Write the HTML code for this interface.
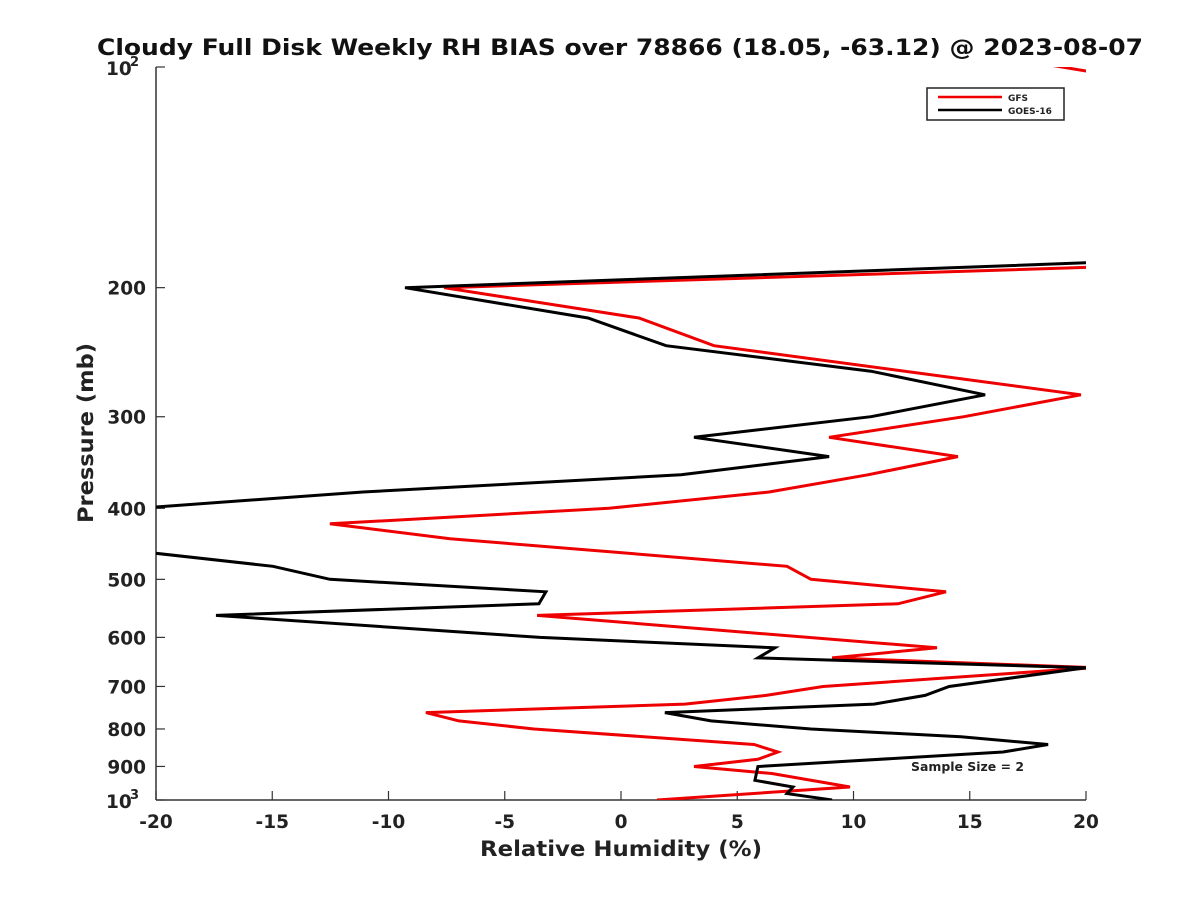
<!DOCTYPE html>
<html><head><meta charset="utf-8"><style>
body{margin:0;background:#fff;}
svg{display:block;font-family:"DejaVu Sans","Liberation Sans",sans-serif;}
</style></head><body>
<svg id="chart" width="1200" height="900" viewBox="0 0 1200 900">
<defs><clipPath id="plotclip"><rect x="156" y="67" width="930" height="733"/></clipPath></defs>
<text x="97" y="55" font-size="22.5" font-weight="bold" fill="#111" textLength="1046" lengthAdjust="spacingAndGlyphs">Cloudy Full Disk Weekly RH BIAS over 78866 (18.05, -63.12) @ 2023-08-07</text>
<g id="axes"></g>
<g id="series" clip-path="url(#plotclip)"></g>
<text x="480" y="856" font-size="21" font-weight="bold" fill="#222" textLength="282" lengthAdjust="spacingAndGlyphs">Relative Humidity (%)</text>
<text transform="translate(93,523) rotate(-90)" font-size="21" font-weight="bold" fill="#222" textLength="180" lengthAdjust="spacingAndGlyphs">Pressure (mb)</text>
<g>
<rect x="927" y="88" width="137" height="32" fill="#fff" stroke="#222" stroke-width="1.5"/>
<line x1="938" y1="97" x2="1002" y2="97" stroke="#e00" stroke-width="2.5"/>
<text x="1008" y="101" font-size="9" font-weight="bold" fill="#222">GFS</text>
<line x1="938" y1="110" x2="1002" y2="110" stroke="#000" stroke-width="2.5"/>
<text x="1008" y="114" font-size="9" font-weight="bold" fill="#222">GOES-16</text>
</g>
<text x="911" y="771" font-size="12" font-weight="bold" fill="#222" textLength="113" lengthAdjust="spacingAndGlyphs">Sample Size = 2</text>
</svg>
<script>
const xTicks=[-20,-15,-10,-5,0,5,10,15,20];
const yTicks=[200,300,400,500,600,700,800,900];
const gfsPressure=[95,105,187,200,220,240,280,300,320,340,360,380,400,420,440,480,500,520,540,560,620,640,660,700,720,740,760,780,800,840,860,880,900,920,960,1000];
const gfsValues=[14.75,22.97,21.5,-7.61,0.77,4.0,19.78,14.75,8.95,14.49,10.62,6.37,-0.52,-12.52,-7.35,7.14,8.17,13.98,11.91,-3.61,13.59,9.08,20.3,8.69,6.24,2.75,-8.39,-6.97,-3.74,5.72,6.75,5.89,3.14,6.49,9.85,1.55];
const goesPressure=[184,200,220,240,260,280,300,320,340,360,380,400,430,460,480,500,520,540,560,600,620,640,660,700,720,740,760,780,800,820,840,860,900,940,960,980,1000];
const goesValues=[22,-9.29,-1.42,1.94,10.75,15.66,10.75,3.14,8.95,2.58,-11.1,-20.8,-30,-20.2,-14.97,-12.52,-3.23,-3.53,-17.42,-3.48,6.62,5.89,20.0,14.11,13.08,10.88,1.89,3.87,8.17,14.62,18.37,16.43,5.89,5.76,7.4,7.14,9.08];
const X0=156,X1=1086,Y0=67,Y1=800;
function xs(v){return X0+(v+20)/40*(X1-X0);}
function ys(p){return Y0+(Math.log10(p)-2)*(Y1-Y0);}
const NS='http://www.w3.org/2000/svg';
const axes=document.getElementById('axes'),ser=document.getElementById('series');
function mk(t,a,par){const e=document.createElementNS(NS,t);for(const k in a)e.setAttribute(k,a[k]);par.appendChild(e);return e;}
const la=mk('line',{x1:X0,y1:Y0,x2:X0,y2:Y1,stroke:'#333','stroke-width':1.5},axes);


const lb=mk('line',{x1:X0,y1:Y1,x2:X1,y2:Y1,stroke:'#333','stroke-width':1.5},axes);


xTicks.forEach(v=>{const x=xs(v);
 mk('line',{x1:x,y1:Y1,x2:x,y2:Y1-9,stroke:'#333','stroke-width':1.2},axes);
 const t=mk('text',{x:x,y:828,'text-anchor':'middle','font-size':18.5,'font-weight':'bold',fill:'#222'},axes);
 t.textContent=String(v);
 
 
});
yTicks.forEach(p=>{const y=ys(p);
 mk('line',{x1:X0,y1:y,x2:X0+9,y2:y,stroke:'#333','stroke-width':1.2},axes);
 const t=mk('text',{x:146,y:y+7,'text-anchor':'end','font-size':18.5,'font-weight':'bold',fill:'#222'},axes);
 t.textContent=String(p);
 
 
});
[[100,'2'],[1000,'3']].forEach(([p,e])=>{const y=ys(p);
 mk('line',{x1:X0,y1:y,x2:X0+9,y2:y,stroke:'#333','stroke-width':1.2},axes);
 const t=mk('text',{x:106,y:y+8,'font-size':18.5,'font-weight':'bold',fill:'#222'},axes);
 t.textContent='10';
 
 
 const s=mk('text',{x:130,y:y-1,'font-size':13,'font-weight':'bold',fill:'#222'},axes);
 s.textContent=e;
 
 
});
function line(P,V,col,name){
 const d=P.map((p,i)=>(i?'L':'M')+xs(V[i]).toFixed(1)+' '+ys(p).toFixed(1)).join(' ');
 const e=mk('path',{d:d,fill:'none',stroke:col,'stroke-width':3,'stroke-linejoin':'miter'},ser);
 
 
}
line(gfsPressure,gfsValues,'#e00','gfs-line');
line(goesPressure,goesValues,'#000','goes16-line');
</script>
</body></html>
